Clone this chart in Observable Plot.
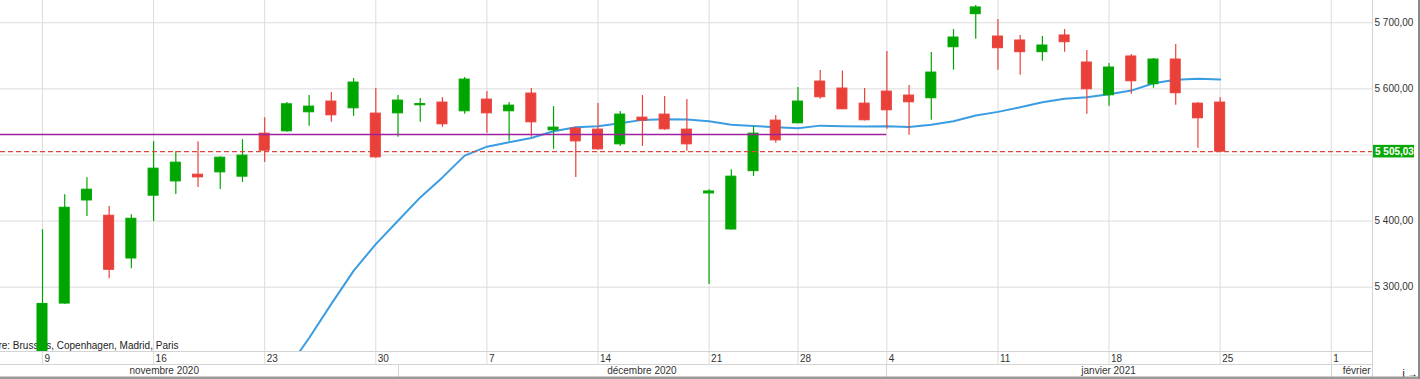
<!DOCTYPE html>
<html><head><meta charset="utf-8">
<script src="https://cdn.jsdelivr.net/npm/d3@7"></script>
<script src="https://cdn.jsdelivr.net/npm/@observablehq/plot@0.6"></script>
<style>html,body{margin:0;padding:0;background:#fff;overflow:hidden}#chart svg{display:block}</style>
</head><body><div id="chart"></div>
<script>
// Trading days (index = position on the chart)
const dates = ["2020-11-09","2020-11-10","2020-11-11","2020-11-12","2020-11-13",
"2020-11-16","2020-11-17","2020-11-18","2020-11-19","2020-11-20",
"2020-11-23","2020-11-24","2020-11-25","2020-11-26","2020-11-27",
"2020-11-30","2020-12-01","2020-12-02","2020-12-03","2020-12-04",
"2020-12-07","2020-12-08","2020-12-09","2020-12-10","2020-12-11",
"2020-12-14","2020-12-15","2020-12-16","2020-12-17","2020-12-18",
"2020-12-21","2020-12-22","2020-12-23","2020-12-24",
"2020-12-28","2020-12-29","2020-12-30","2020-12-31",
"2021-01-04","2021-01-05","2021-01-06","2021-01-07","2021-01-08",
"2021-01-11","2021-01-12","2021-01-13","2021-01-14","2021-01-15",
"2021-01-18","2021-01-19","2021-01-20","2021-01-21","2021-01-22",
"2021-01-25"];
const open  = [5160,5275.2,5431.2,5408.1,5343.4,5438.4,5460.0,5470.2,5473.7,5467.2,
5532.3,5535.8,5564.6,5580.8,5570.6,5562.6,5563,5575.2,5579.3,5566.1,
5583.8,5566.1,5592.9,5537.3,5539.9,5538.4,5516.1,5556.5,5561.1,5538.4,
5441.8,5387.3,5475.5,5552,5547.9,5611.1,5600.5,5577.7,5595.9,5589.9,
5585.8,5663,5713,5679.2,5673.2,5655.5,5680.8,5639.9,5590.3,5649,
5607,5644.4,5577.7,5579.3];
const high  = [5386.9,5439.9,5465.6,5422.2,5409.6,5520.2,5505,5520.2,5497.5,5523.2,
5556.5,5579.3,5589.9,5594.4,5615.6,5600.5,5589.9,5585.3,5586.8,5617.1,
5595.9,5579.3,5600.5,5573.2,5542,5577.7,5565.6,5589.9,5588.4,5583.8,
5447.4,5477.7,5542.9,5559.6,5602,5627.7,5627,5600.5,5656.5,5605,
5655,5689.9,5726.2,5705,5680.8,5679.2,5689.9,5658,5638.4,5652,
5645.9,5667.1,5579.3,5586.4];
const low   = [5140,5274,5407,5312.6,5327.8,5399.4,5440.3,5450.9,5447.9,5458.5,
5488.8,5534.3,5543.4,5549.4,5558.5,5494.9,5526.7,5549.4,5541.8,5561.5,
5532.8,5520.6,5526.7,5508.5,5466.1,5507.5,5513,5513,5537.3,5505.5,
5303.9,5386.5,5467.6,5517.6,5547.5,5584.3,5568.5,5551.5,5538.8,5529.7,
5552.5,5628.2,5675,5628.2,5620.6,5641.8,5655.5,5561.5,5573.7,5591.8,
5600.9,5575.2,5510,5505.03];
const close = [5274.7,5420.2,5447.5,5326.3,5403.5,5479.3,5488.4,5466.1,5495.9,5499,
5506.5,5576.7,5573.2,5560,5609.6,5496.4,5582.3,5577.0,5546.4,5614.1,
5563,5574.7,5549.4,5541.4,5520.6,5508.5,5561.1,5552,5538.8,5516.1,
5444.8,5467.2,5532.3,5522.1,5580.8,5587.3,5569.1,5552.5,5567.6,5579.7,
5624.7,5677.7,5723.2,5661.5,5655.5,5665.6,5670.6,5599.4,5632.3,5611.5,
5644.4,5593.4,5555.5,5505.03];
// Moving average, starting at index 11
const maStart = 11;
const ma = [5175,5223.2,5274.7,5324.7,5365.2,5400.5,5435.8,5466.1,5499,5512.6,
5519.1,5525.8,5535.8,5541.8,5543.4,5547.9,5553.1,5554,5553.5,5550.9,
5545.9,5543.9,5541.8,5540.3,5544.4,5543.4,5542.9,5543.4,5542.4,5545.9,
5550.9,5559.6,5565.2,5572.1,5579.7,5584.9,5587.3,5591.8,5597.4,5608.5,
5613.7,5615.2,5614.1];
const lastPrice = 5505.03;
const levelValue = 5531;       // purple horizontal level
const levelEndIndex = 38;      // ends on 4 janvier
const yGrid = [5300,5400,5500,5600,5700];
const yLabels = [5300,5400,5600,5700];   // 5 500 is hidden behind the price badge
const dayTickIndex = [0,5,10,15,20,25,30,34,38,43,48,53,58];
const dayTickLabels = ["9","16","23","30","7","14","21","28","4","11","18","25","1"];
const monthStarts = [-5,16,38,58,78];
const monthLabels = ["novembre 2020","décembre 2020","janvier 2021","février 2021"];
const timezoneNote = "Fuseau horaire: Brussels, Copenhagen, Madrid, Paris";

const GREEN = "#00a600", RED = "#e9413a";
const candles = dates.map((d,i)=>({i, date:d, open:open[i], high:high[i], low:low[i], close:close[i]}));
const maData = ma.map((v,k)=>({i:k+maStart, v}));
const dayLabel = new Map(dayTickIndex.map((d,k)=>[d, dayTickLabels[k]]));
const fr = d3.formatLocale({decimal:",", thousands:"\u00a0", grouping:[3], currency:["","€"]});
const fmt = fr.format(",.2f");
const col = d => d.close >= d.open ? GREEN : RED;
const hw = 0.225;

const plot = Plot.plot({
  width:1420, height:379,
  marginLeft:0, marginRight:48, marginTop:0, marginBottom:28,
  style:{fontFamily:"'Liberation Sans', Arial, sans-serif", fontSize:"10px", background:"#fff", overflow:"visible"},
  x:{type:"linear", domain:[-1.890, 59.856]},
  y:{type:"linear", domain:[5202.7, 5733.7]},
  marks:[
    Plot.gridY(yGrid, {stroke:"#dcdcdc", strokeOpacity:1}),
    Plot.gridX(dayTickIndex, {stroke:"#dcdcdc", strokeOpacity:1}),
    Plot.axisX(dayTickIndex, {tickSize:13, tickFormat:()=>"", stroke:"#dcdcdc", strokeOpacity:1}),
    Plot.text(dayTickIndex, {x:d=>d, text:d=>dayLabel.get(d), frameAnchor:"bottom", lineAnchor:"middle", dy:7.5, dx:2, textAnchor:"start", fill:"#333", fontSize:10}),
    Plot.axisY(yLabels, {anchor:"right", tickSize:0, tickPadding:2, tickFormat:fmt, fill:"#333", fontSize:10}),
    Plot.text([timezoneNote], {frameAnchor:"bottom-left", lineAnchor:"middle", textAnchor:"end", dx:178, dy:-5.5, fill:"#222", fontSize:10}),
    Plot.line(maData, {x:"i", y:"v", stroke:"#3b9de1", strokeWidth:2, clip:true}),
    Plot.ruleX(candles, {x:"i", y1:"low", y2:"high", stroke:col, strokeWidth:1.2, clip:true}),
    Plot.rect(candles, {x1:d=>d.i-hw, x2:d=>d.i+hw, y1:"open", y2:"close", fill:col, stroke:col, strokeWidth:1, clip:true}),
    Plot.ruleY([levelValue], {x1:-1.890, x2:levelEndIndex, stroke:"#a0229f", strokeWidth:1.6}),
    Plot.ruleY([lastPrice], {stroke:"#e0463c", strokeWidth:1.1, strokeDasharray:"5,3"})
  ]
});
document.getElementById("chart").appendChild(plot);

// Chart chrome (axis panel rows, borders, month labels, price badge)
const svg = d3.select(plot.tagName.toLowerCase()==="svg" ? plot : plot.querySelector("svg"));
const sx = plot.scale("x"), sy = plot.scale("y");
const X = v => sx.apply(v), Y = v => sy.apply(v);
const right = 1372;
const g = svg.append("g").attr("font-family","'Liberation Sans', Arial, sans-serif").attr("text-anchor","start");
g.append("line").attr("x1",0).attr("x2",right).attr("y1",351.5).attr("y2",351.5).attr("stroke","#d4d4d4");
g.append("line").attr("x1",0).attr("x2",right).attr("y1",364.5).attr("y2",364.5).attr("stroke","#d4d4d4");
g.append("line").attr("x1",right+0.5).attr("x2",right+0.5).attr("y1",0).attr("y2",377).attr("stroke","#d4d4d4");
const defs = svg.append("defs");
defs.append("clipPath").attr("id","monthClip").append("rect").attr("x",0).attr("y",365).attr("width",right).attr("height",12);
const mg = g.append("g").attr("clip-path","url(#monthClip)");
monthLabels.forEach((lab,k)=>{
  const a = X(monthStarts[k]), b = X(monthStarts[k+1]);
  mg.append("line").attr("x1",Math.round(a)+0.5).attr("x2",Math.round(a)+0.5).attr("y1",364).attr("y2",377).attr("stroke","#d4d4d4");
  const c = (a+b)/2;
  const t = mg.append("text").attr("y",374).attr("fill","#333").attr("font-size",10).text(lab);
  if (c < right) t.attr("x",c).attr("text-anchor","middle");
  else t.attr("x",a+12).attr("text-anchor","start");
});
g.append("rect").attr("x",0).attr("y",376.5).attr("width",1420).attr("height",2.5).attr("fill","#9a9a9a");
g.append("rect").attr("x",1418).attr("y",0).attr("width",2).attr("height",379).attr("fill","#8a8a8a");
const yp = Y(lastPrice);
g.append("rect").attr("x",1373).attr("y",yp-6.3).attr("width",41).attr("height",12.6).attr("fill","#07a807");
g.append("text").attr("x",1375).attr("y",yp+3.6).attr("text-anchor","start").attr("fill","#fff").attr("font-size",10).attr("font-weight","bold").text(fmt(lastPrice));
</script></body></html>
